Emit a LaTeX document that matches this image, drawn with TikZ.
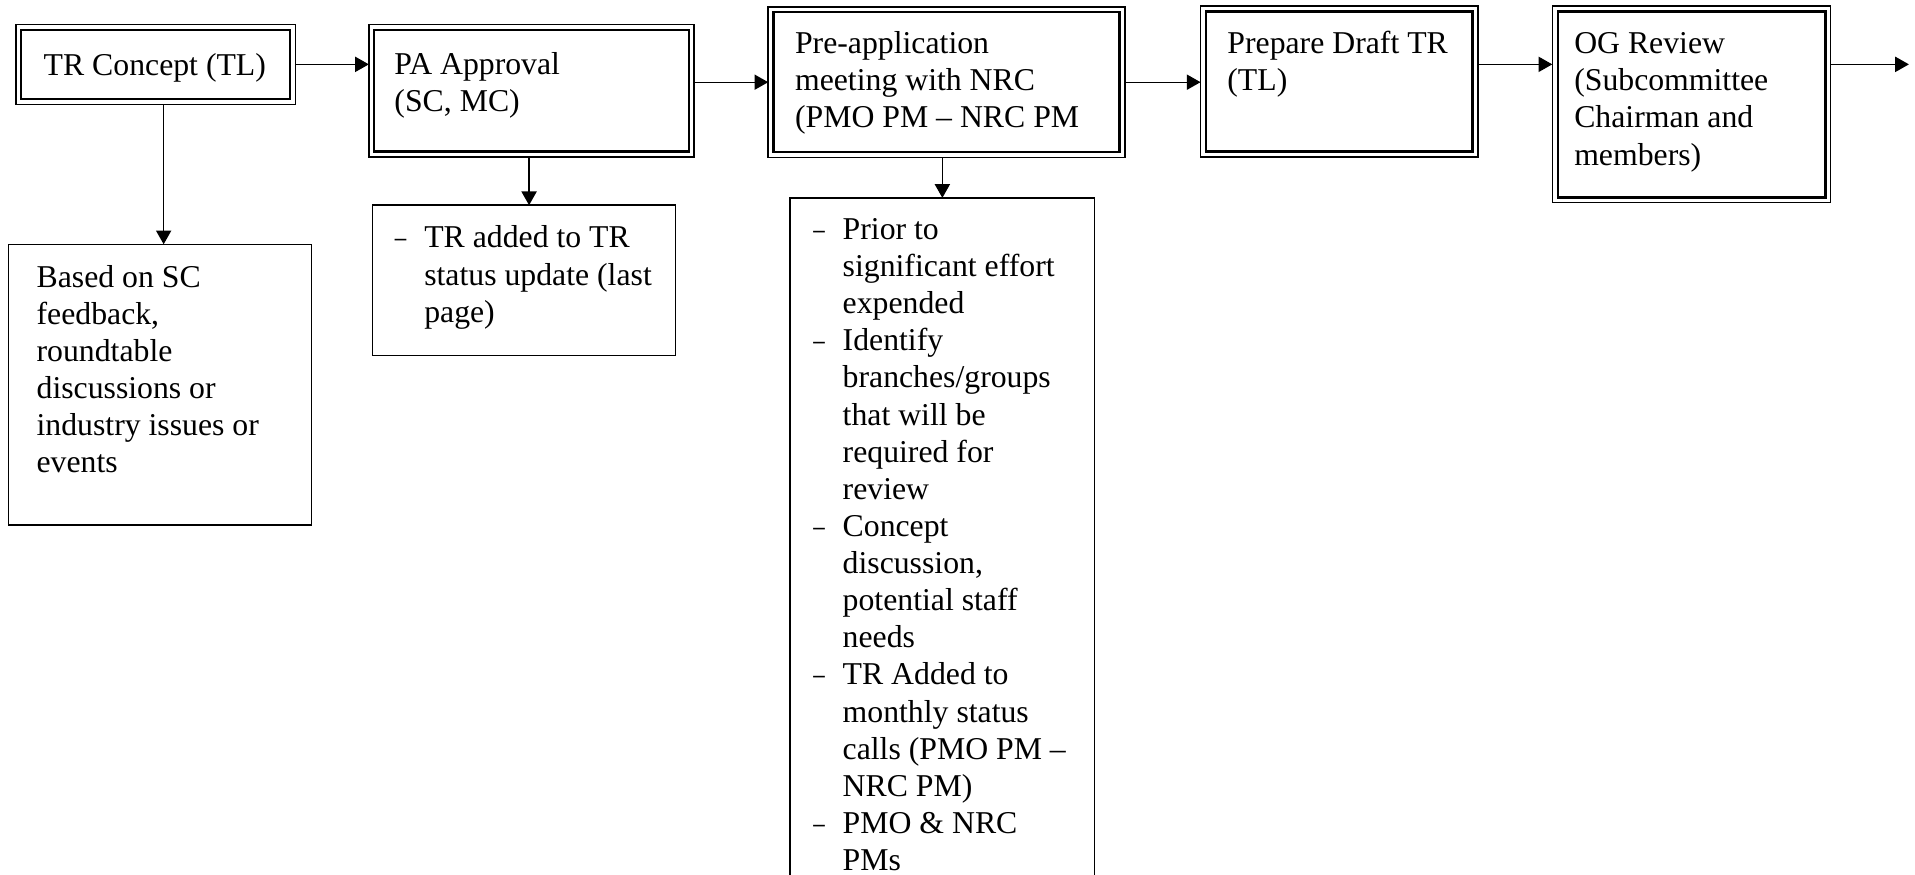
\documentclass[tikz,border=0pt]{standalone}
\usepackage{fontspec}
\setmainfont{Liberation Serif}
\usetikzlibrary{arrows.meta}

\newcommand\boxtxt[3]{\parbox[t][#2][t]{#1}{\raggedright\rule{0pt}{10pt}#3}}
\newcommand\listtxt[3]{\parbox[t][#2][t]{#1}{\raggedright #3}}
\newcommand\dashitem{\par\hangindent=12pt\hangafter=1\noindent\rule{0pt}{10pt}\makebox[12pt][l]{\scalebox{0.72}[1]{–}}}

\begin{document}
\begin{tikzpicture}[x=1pt,y=-1pt,
  font=\fontsize{13}{15.2}\selectfont,
  box/.style={draw, line width=0.6pt, anchor=north west, outer sep=0pt},
  arr/.style={line width=0.55pt, -{Triangle[length=5.6pt,width=6.2pt]}}]
\useasboundingbox (0,0) rectangle (784,358);
\clip (0,0) rectangle (784,358);

% main process boxes
\node[box, inner xsep=11.4pt, inner ysep=10.8pt] (tr) at (6.5,10)
  {\boxtxt{91.7pt}{11.1pt}{TR Concept (TL)}};
\node[box, inner xsep=10.5pt, inner ysep=10.5pt] (pa) at (151,10)
  {\boxtxt{112.2pt}{33.2pt}{PA Approval\newline (SC, MC)}};
\node[box, inner xsep=11pt, inner ysep=9.2pt] (pre) at (314.5,2.8)
  {\boxtxt{124pt}{43.3pt}{Pre-application\newline meeting with NRC\newline (PMO PM – NRC PM}};
\node[box, inner xsep=11pt, inner ysep=9.5pt] (prep) at (491.5,2.5)
  {\boxtxt{91.5pt}{42.7pt}{Prepare Draft TR\newline (TL)}};
\node[box, inner xsep=9pt, inner ysep=9.5pt] (og) at (635.5,2.5)
  {\boxtxt{96pt}{61.5pt}{OG Review\newline (Subcommittee\newline Chairman and\newline members)}};

% inner lines of the double borders
\foreach \n in {tr,pa,pre,prep,og}
  \draw[line width=0.95pt] ([xshift=2.2pt,yshift=-2.2pt]\n.north west) rectangle ([xshift=-2.2pt,yshift=2.2pt]\n.south east);

% note boxes
\node[box, inner xsep=11.5pt, inner ysep=7.5pt] (based) at (3.5,100)
  {\boxtxt{101pt}{100pt}{Based on SC\newline feedback,\newline roundtable\newline discussions or\newline industry issues or\newline events}};
\node[box, inner xsep=9.2pt, inner ysep=7.5pt] (tradd) at (152.5,84)
  {\listtxt{105.6pt}{46.5pt}{\dashitem TR added to TR\newline status update (last\newline page)}};
\node[box, inner xsep=9.5pt, inner ysep=7pt] (big) at (323.5,81)
  {\listtxt{105.5pt}{300pt}{%
    \dashitem Prior to\newline significant effort\newline expended
    \dashitem Identify\newline branches/groups\newline that will be\newline required for\newline review
    \dashitem Concept\newline discussion,\newline potential staff\newline needs
    \dashitem TR Added to\newline monthly status\newline calls (PMO PM –\newline NRC PM)
    \dashitem PMO \& NRC\newline PMs}};

% connectors
\coordinate (end) at (781.5,0);
\draw[arr] (tr.east) -- (tr.east -| pa.west);
\draw[arr] (pre.west -| pa.east) -- (pre.west);
\draw[arr] (pre.east) -- (pre.east -| prep.west);
\draw[arr] (prep.east |- tr.east) -- (og.west |- tr.east);
\draw[arr] (og.east |- tr.east) -- (end |- tr.east);

\coordinate (d1) at ([xshift=3.25pt]tr.south);
\coordinate (d2) at ([xshift=-1pt]pa.south);
\coordinate (d3) at ([xshift=-1.7pt]pre.south);
\draw[arr] (d1) -- (d1 |- based.north);
\draw[arr] (d2) -- (d2 |- tradd.north);
\draw[arr] (d3) -- (d3 |- big.north);
\end{tikzpicture}
\end{document}
